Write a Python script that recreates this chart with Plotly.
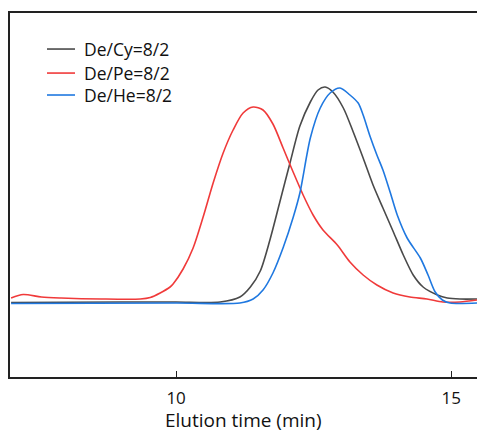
import plotly.graph_objects as go

# Elution time (min) and detector response (arbitrary units)
t_cy = [7.0, 9.0, 10.0, 10.8, 11.16, 11.35, 11.53, 11.71, 11.89, 12.07, 12.25, 12.44, 12.58, 12.71,
        12.85, 13.04, 13.22, 13.40, 13.58, 13.76, 13.95, 14.13, 14.31, 14.49, 14.75, 14.93, 15.16, 15.47]
i_cy = [74.5, 75, 75, 75, 80, 90, 106, 138, 176, 214, 251, 275, 287, 290,
        285, 269, 245, 219, 192, 169, 145, 122, 102, 90, 82, 79, 78, 78]

t_pe = [7.0, 7.22, 7.55, 7.91, 8.64, 9.35, 9.53, 9.71, 9.89, 9.945, 10.127, 10.309, 10.491, 10.673,
        10.855, 11.036, 11.218, 11.4, 11.58, 11.76, 11.945, 12.127, 12.309, 12.49, 12.67, 12.93,
        13.16, 13.4, 13.65, 13.945, 14.25, 14.56, 14.85, 15.16, 15.47]
i_pe = [79, 82.5, 80, 79, 78, 78, 79.5, 84, 90, 93, 108, 129, 160, 194,
        224, 247, 264, 270, 267, 253, 229, 205, 182, 162, 147, 132,
        115, 102, 92, 84, 80, 78, 75, 75, 77]

t_he = [7.0, 10.0, 11.16, 11.4, 11.58, 11.76, 11.95, 12.13, 12.25, 12.44, 12.62, 12.8, 12.98, 13.16,
        13.31, 13.4, 13.53, 13.65, 13.76, 13.89, 14.02, 14.2, 14.44, 14.58, 14.71, 14.84, 14.98, 15.47]
i_he = [73.5, 74, 74, 78, 87, 104, 130, 160, 184, 239, 269, 284, 289, 282,
        274, 262, 240, 222, 207, 185, 162, 139, 119, 102, 85, 77, 74, 74]

names = ["De/Cy=8/2", "De/Pe=8/2", "De/He=8/2"]
colors = ["#4a4a4a", "#f03a3a", "#1f78e0"]

x_ticks = [10, 15]
x_title = "Elution time (min)"

FONT = "Open Sans, Noto Sans, sans-serif"

fig = go.Figure()
for t, i, n, c in [(t_cy, i_cy, names[0], colors[0]),
                   (t_pe, i_pe, names[1], colors[1]),
                   (t_he, i_he, names[2], colors[2])]:
    fig.add_trace(go.Scatter(x=t, y=i, mode="lines", name=n, showlegend=False,
                             line=dict(color=c, width=1.6, shape="spline", smoothing=0.8)))

# Hand-drawn legend (compact spacing like the reference)
leg_y = [0.901, 0.835, 0.7747]
for n, c, yy in zip(names, colors, leg_y):
    fig.add_shape(type="line", xref="paper", yref="paper", x0=0.0792, x1=0.1392,
                  y0=yy, y1=yy, line=dict(color=c, width=1.6))
    fig.add_annotation(xref="paper", yref="paper", x=0.1542, y=yy, text=n,
                       showarrow=False, xanchor="left", yanchor="middle",
                       font=dict(family=FONT, size=17.5, color="#111"))

fig.add_annotation(xref="paper", yref="paper", x=0.5, y=-0.118, text=x_title,
                   showarrow=False, xanchor="center", yanchor="middle",
                   font=dict(family=FONT, size=19, color="#111"))

fig.update_layout(
    width=477, height=433,
    margin=dict(l=10, r=0, t=13, b=56),
    paper_bgcolor="white", plot_bgcolor="white",
    font=dict(family=FONT, size=17, color="#111"),
    showlegend=False,
    xaxis=dict(range=[6.98, 15.47], tickvals=x_ticks, ticks="inside", ticklen=6,
               tickwidth=1.2, tickcolor="#222", showline=True, linecolor="#222",
               linewidth=1.5, mirror=True, showgrid=False, zeroline=False,
               automargin=False, ticklabelstandoff=5, tickfont=dict(size=17)),
    yaxis=dict(range=[0, 364], showticklabels=False, ticks="", showline=True,
               linecolor="#222", linewidth=1.5, showgrid=False, zeroline=False,
               automargin=False),
)

fig.write_html("out.html", config={"displayModeBar": False},
               post_script="document.body.style.margin='0';document.body.style.overflow='hidden';")
